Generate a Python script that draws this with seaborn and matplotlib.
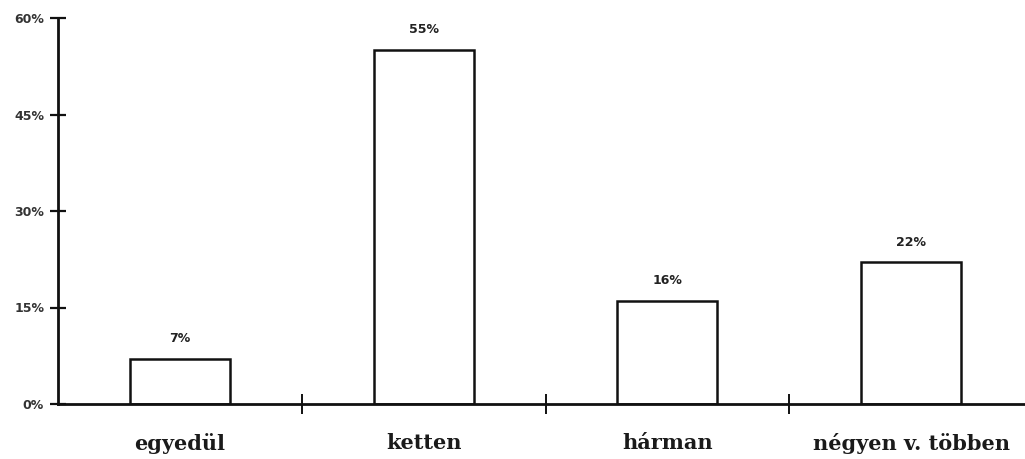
import matplotlib
matplotlib.use('Agg')
import matplotlib.pyplot as plt
import seaborn as sns
from matplotlib.ticker import FixedLocator

categories = ["egyedül", "ketten", "hárman", "négyen v. többen"]
shares = [7, 55, 16, 22]
y_ticks = [0, 15, 30, 45, 60]
y_tick_labels = ["0%", "15%", "30%", "45%", "60%"]
bar_labels = ["7%", "55%", "16%", "22%"]

sns.set_theme(style="white")
plt.rcParams['font.family'] = ['DejaVu Sans']

fig = plt.figure(figsize=(10.25, 4.59), dpi=100)
ax = fig.add_axes([58 / 1025, 55 / 459, 975 / 1025, 386 / 459])

sns.barplot(x=categories, y=shares, ax=ax, fill=False, color="black",
            width=0.41, linewidth=1.8, errorbar=None)
for p in ax.patches:
    p.set_edgecolor("#111111")

ax.bar_label(ax.containers[0], labels=bar_labels, padding=10,
             fontsize=9, fontweight="bold", color="#222222")

ax.set_xlim(-0.5, 3.5)
ax.set_ylim(0, 60)
ax.set_yticks(y_ticks)
ax.set_yticklabels(y_tick_labels, fontsize=9, color="#333333", fontweight="bold")

# category labels at centres, tick marks at the boundaries
ax.tick_params(axis="x", which="major", bottom=True, length=0, pad=21)
ax.xaxis.set_minor_locator(FixedLocator([0.5, 1.5, 2.5]))
ax.tick_params(axis="x", which="minor", bottom=True, length=14, width=1.4,
               direction="inout", color="#111111")
ax.tick_params(axis="y", which="major", left=True, length=12, width=1.6,
               direction="inout", color="#111111", pad=4)
for lab in ax.get_xticklabels():
    lab.set_family("DejaVu Serif")
    lab.set_fontsize(15)
    lab.set_fontweight("bold")
    lab.set_color("#1a1a1a")

for s in ["top", "right"]:
    ax.spines[s].set_visible(False)
for s in ["left", "bottom"]:
    ax.spines[s].set_linewidth(2)
    ax.spines[s].set_color("#111111")
ax.set_xlabel("")
ax.set_ylabel("")
ax.grid(False)

fig.savefig("out.png", dpi=100)
